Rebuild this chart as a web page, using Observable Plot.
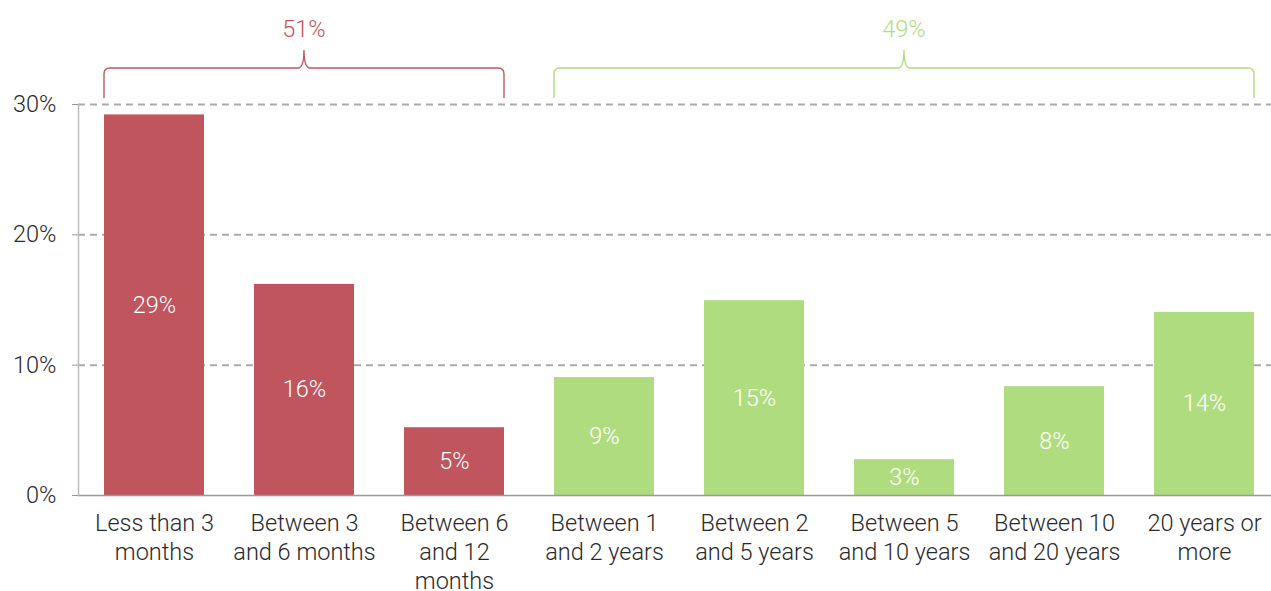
<!DOCTYPE html>
<html><head><meta charset="utf-8">
<script src="https://cdn.jsdelivr.net/npm/d3@7"></script>
<script src="https://cdn.jsdelivr.net/npm/@observablehq/plot@0.6"></script>
<style>
body{margin:0;background:#fff}
#chart svg{display:block;font-family:Roboto, "Noto Sans", sans-serif;font-weight:300}
</style>
</head><body><div id="chart"></div>
<script>
const categories = ["Less than 3\nmonths", "Between 3\nand 6 months", "Between 6\nand 12\nmonths", "Between 1\nand 2 years", "Between 2\nand 5 years", "Between 5\nand 10 years", "Between 10\nand 20 years", "20 years or\nmore"];
const values = [29.2, 16.2, 5.2, 9.05, 14.95, 2.75, 8.35, 14.05];
const valueLabels = ["29%", "16%", "5%", "9%", "15%", "3%", "8%", "14%"];
const groupOf = ["short", "short", "short", "long", "long", "long", "long", "long"];
const groupNames = ["short", "long"];
const groupTotals = ["51%", "49%"];
const groupColors = ["#C0555E", "#B0DC80"];
const yTicks = [0, 10, 20, 30];
const yTickLabels = ["0%", "10%", "20%", "30%"];

const data = categories.map((c, i) => ({cat: c, v: values[i], label: valueLabels[i], group: groupOf[i]}));
const groups = groupNames.map((g, i) => ({
  name: g, total: groupTotals[i], color: groupColors[i],
  first: categories[groupOf.indexOf(g)],
  last: categories[groupOf.lastIndexOf(g)]
}));

const FS = 23.5;

function braces(index, scales, values, dimensions) {
  const sx = scales.x;
  const bw = typeof sx.bandwidth === "function" ? sx.bandwidth() : 0;
  const top = dimensions.marginTop;
  const g = d3.create("svg:g");
  for (const gr of groups) {
    const x0 = sx(gr.first), x1 = sx(gr.last) + bw, cx = (x0 + x1) / 2;
    const yEnd = top - 6, yTop = top - 36, yTip = top - 54, r = 6;
    const p = `M${x0},${yEnd} L${x0},${yTop + r} Q${x0},${yTop} ${x0 + r},${yTop} L${cx - r},${yTop} Q${cx},${yTop} ${cx},${yTip} Q${cx},${yTop} ${cx + r},${yTop} L${x1 - r},${yTop} Q${x1},${yTop} ${x1},${yTop + r} L${x1},${yEnd}`;
    g.append("path").attr("d", p).attr("fill", "none").attr("stroke", gr.color).attr("stroke-width", 1.4);
    g.append("text").attr("x", cx).attr("y", top - 75).attr("text-anchor", "middle").attr("dy", "0.35em")
      .attr("fill", gr.color).attr("font-size", FS).attr("font-weight", 300).text(gr.total);
  }
  return g.node();
}

const chart = Plot.plot({
  width: 1271,
  height: 591,
  marginTop: 104,
  marginBottom: 96,
  marginLeft: 78,
  marginRight: 0,
  style: {fontFamily: "Roboto, 'Noto Sans', sans-serif", fontSize: FS + "px", background: "#fff"},
  x: {domain: categories, range: [78, 1281], paddingInner: 0.33, paddingOuter: 0.165, label: null},
  y: {domain: [0, 30], label: null},
  color: {domain: groupNames, range: groupColors},
  marks: [
    Plot.ruleY(yTicks.filter(d => d > 0), {stroke: "#aaa", strokeWidth: 2, strokeDasharray: "7,5"}),
    Plot.barY(data, {x: "cat", y: "v", fill: "group"}),
    Plot.text(data, {x: "cat", y: d => d.v / 2, text: "label", fill: "#fff", fontSize: FS, fontWeight: 300}),
    Plot.ruleY([0], {stroke: "#999", strokeWidth: 1.5}),
    Plot.frame({anchor: "left", stroke: "#bbb", strokeWidth: 1.5}),
    Plot.axisY({ticks: yTicks, tickFormat: (d) => yTickLabels[yTicks.indexOf(d)], tickSize: 6, tickPadding: 16, stroke: "#999", fill: "#2a2a2a", fontSize: FS, fontWeight: 300, label: null}),
    Plot.axisX({tickSize: 0, tickPadding: 15, fill: "#2a2a2a", fontSize: FS, fontWeight: 300, lineHeight: 1.24, label: null}),
    braces
  ]
});
document.getElementById("chart").append(chart);
</script>
</body></html>
